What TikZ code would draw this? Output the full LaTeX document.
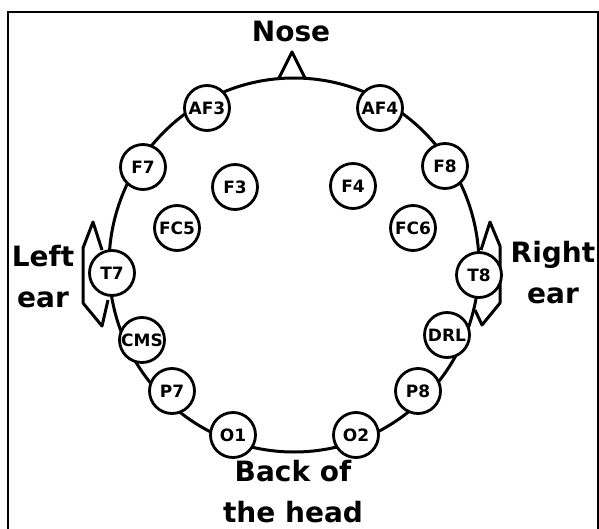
\documentclass[tikz,border=0pt]{standalone}
\usepackage{fontspec}
\setmainfont{DejaVu Sans}
\usetikzlibrary{positioning}
\tikzset{
  electrode/.style={draw,circle,line width=2.8pt,fill=white,minimum size=45pt,inner sep=0pt,font=\bfseries\fontsize{17}{17}\selectfont},
  sidelabel/.style={align=center,anchor=base,font=\bfseries\fontsize{28}{41}\selectfont},
  headline/.style={line width=3pt,line join=round},
}
\begin{document}
\begin{tikzpicture}[x=1pt,y=-1pt]
  \useasboundingbox (0,0) rectangle (599,529);
  \draw[line width=2pt] (8,529) -- (8,12) -- (598,12) -- (598,529);
  % nose and ears
  \draw[headline] (278,80) -- (292,52) -- (306,80);
  \draw[headline] (102,250) -- (93,222) -- (83,248) -- (83,303) -- (102,326) -- (108,300);
  \draw[headline] (481,250) -- (490,222) -- (500,246) -- (500,303) -- (482,325) -- (475,310);
  % head
  \draw[headline,fill=white] (294,265) ellipse [x radius=185,y radius=187];
  \node[sidelabel] (nose) at (291,42) {Nose};
  \node[sidelabel] (left) at (43,307) {Left\\ear};
  \node[sidelabel] (right) at (553,303) {Right\\ear};
  \node[sidelabel] (back) at (293,522) {Back of\\the head};
  \foreach \x/\y/\name/\label in {
    207/108/af3/AF3, 380/108/af4/AF4,
    143/167/f7/F7, 445/166/f8/F8,
    235/187/f3/F3, 353/186/f4/F4,
    177/228/fc5/FC5, 413/228/fc6/FC6,
    112/273/t7/T7, 479/275/t8/T8,
    142/340/cms/CMS, 447/335/drl/DRL,
    172/391/p7/P7, 418/391/p8/P8,
    233/435/o1/O1, 356/435/o2/O2}
  {
    \node[electrode] (\name) at (\x,\y) {\label};
  }
\end{tikzpicture}
\end{document}
